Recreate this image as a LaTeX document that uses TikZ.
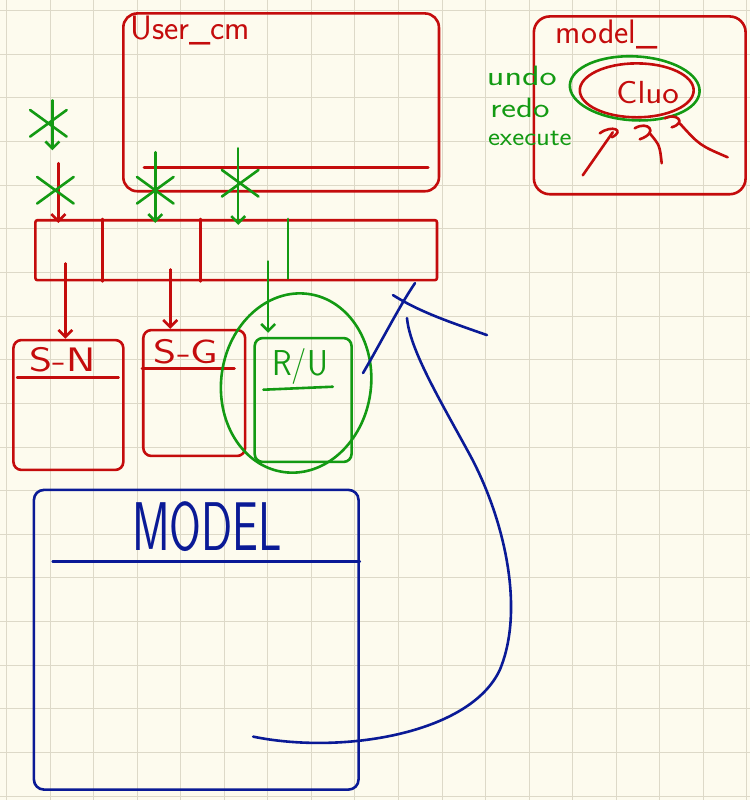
\documentclass[tikz,border=0pt]{standalone}
\usetikzlibrary{arrows.meta,shapes.misc,shapes.geometric}
\definecolor{paper}{HTML}{FDFBEE}
\definecolor{gridc}{HTML}{DDD9C8}
\definecolor{pred}{HTML}{C40C0C}
\definecolor{pgreen}{HTML}{139A13}
\definecolor{pblue}{HTML}{0A1A96}

\begin{document}
\begin{tikzpicture}[x=1pt,y=-1pt,
  pen/.style={line width=2.6pt,line cap=round,line join=round},
  rpen/.style={pen,pred},gpen/.style={pen,pgreen},bpen/.style={pen,pblue},
  tip/.style={-{Straight Barb[length=7pt,width=14pt]}},
  xmark/.style={cross out,draw,gpen,minimum width=34,minimum height=24,inner sep=0pt},
  hand/.style={font=\sffamily\fontsize{#1}{#1}\selectfont,inner sep=0pt},
  boxr/.style={draw,rpen,rounded corners=8pt}]
\fill[paper] (0,0) rectangle (750,800);
\foreach \i in {0,...,17}{\draw[gridc,line width=0.9pt] (6+43.6*\i,0)--(6+43.6*\i,800);}
\foreach \j in {0,...,18}{\draw[gridc,line width=0.9pt] (0,10+43.7*\j)--(750,10+43.7*\j);}

\node[boxr,rounded corners=14pt,minimum width=316,minimum height=178] (usercm) at (281,102){};
\node[hand=34,pred] (usertitle) at (190,30){User\_cm};
\draw[rpen] ([xshift=22,yshift=25]usercm.south west)--([xshift=-12,yshift=25]usercm.south east);

\node[boxr,rounded corners=2pt,minimum width=402,minimum height=60] (list) at (236,250){};
\draw[rpen] ([xshift=-134]list.north)--([xshift=-134]list.south);
\draw[rpen] ([xshift=-36]list.north)--([xshift=-36]list.south);
\draw[gpen] ([xshift=52]list.north)--([xshift=52,yshift=3]list.south);

\coordinate (g1) at (52,100);\coordinate (g1e) at (52,150);
\draw[gpen,tip] (g1)--(g1e);\node[xmark] (x1) at (48,123){};
\coordinate (r1) at (58,163);\draw[rpen,tip] (r1)--([xshift=-178,yshift=-4]list.north);\node[xmark] (x2) at (55,190){};
\coordinate (g3) at (155,152);\draw[gpen,tip] (g3)--([xshift=-81,yshift=-4]list.north);\node[xmark] (x3) at (155,190){};
\coordinate (g4) at (238,148);\draw[gpen,tip] (g4)--([xshift=2,yshift=-6]list.north);\node[xmark] (x4) at (240,183){};

\node[boxr,minimum width=110,minimum height=130] (sn) at (68,405){};
\draw[rpen] ([xshift=5,yshift=-39]sn.north west)--([xshift=-6,yshift=-39]sn.north east);
\node[hand=34,pred,xscale=1.3] (snlabel) at (62,360){S-N};
\node[boxr,minimum width=102,minimum height=126] (sg) at (194,393){};
\draw[rpen] ([yshift=-40]sg.north west)--([xshift=-12,yshift=-40]sg.north east);
\node[hand=34,pred,xscale=1.3] (sglabel) at (186,352){S-G};
\node[draw,gpen,rounded corners=8pt,minimum width=97,minimum height=124] (ru) at (303,400){};
\draw[gpen] ([xshift=10,yshift=-53]ru.north west)--([xshift=-20,yshift=-50]ru.north east);
\node[hand=36,pgreen,xscale=0.9] (rulabel) at (300,366){R/U};
\node[draw,gpen,ellipse,rotate=-8,minimum width=150,minimum height=180] (ruring) at (296,383){};

\draw[rpen,tip] ([xshift=-171,yshift=18]list.south)--([xshift=-3]sn.north);
\draw[rpen,tip] ([xshift=-66,yshift=12]list.south)--([xshift=-24]sg.north);
\draw[gpen,tip] ([xshift=32,yshift=20]list.south)--([xshift=-35,yshift=4]ru.north);

\node[draw,bpen,rounded corners=10pt,minimum width=325,minimum height=300] (model) at (196,640){};
\draw[bpen] ([xshift=20,yshift=-73]model.north west)--([yshift=-73]model.north east);
\node[hand=46,pblue,yscale=1.5] (modellabel) at (207,527){MODEL};

\coordinate (loopstart) at (253,737);\coordinate (loopend) at (407,318);
\draw[bpen] (loopstart) .. controls (340,755) and (470,735) .. (500,670) .. controls (525,610) and (505,520) .. (470,455) .. controls (440,400) and (410,350) .. (loopend);
\draw[bpen] (363,373) .. controls (385,335) and (400,305) .. (415,283);
\draw[bpen] (393,295) .. controls (420,312) and (450,322) .. (487,335);

\node[boxr,rounded corners=16pt,minimum width=212,minimum height=178] (modelbox) at (640,105){};
\node[hand=34,pred] (modeltitle) at (607,34){model\_};
\node[draw,rpen,ellipse,minimum width=114,minimum height=54] (clu) at (637,90){};
\node[hand=32,pred,xscale=1.1] (clulabel) at (648,92){Cluo};
\node[draw,gpen,ellipse,rotate=-3,minimum width=130,minimum height=64] (cluring) at (635,88){};
\node[hand=28,pgreen,xscale=1.3] (undo) at (522,76){undo};
\node[hand=28,pgreen,xscale=1.25] (redo) at (520,108){redo};
\node[hand=26,pgreen,xscale=1.1] (execute) at (530,138){execute};
\draw[rpen] (613,132)--(583,175);
\draw[rpen] (650,133) .. controls (660,145) .. (662,163);
\draw[rpen] (680,123) .. controls (700,145) .. (728,157);
\draw[rpen] (600,133) .. controls (612,124) and (626,130) .. (612,137);
\draw[rpen] (635,128) .. controls (648,120) and (660,132) .. (640,139);
\draw[rpen] (665,118) .. controls (676,112) and (688,122) .. (672,127);
\end{tikzpicture}
\end{document}
